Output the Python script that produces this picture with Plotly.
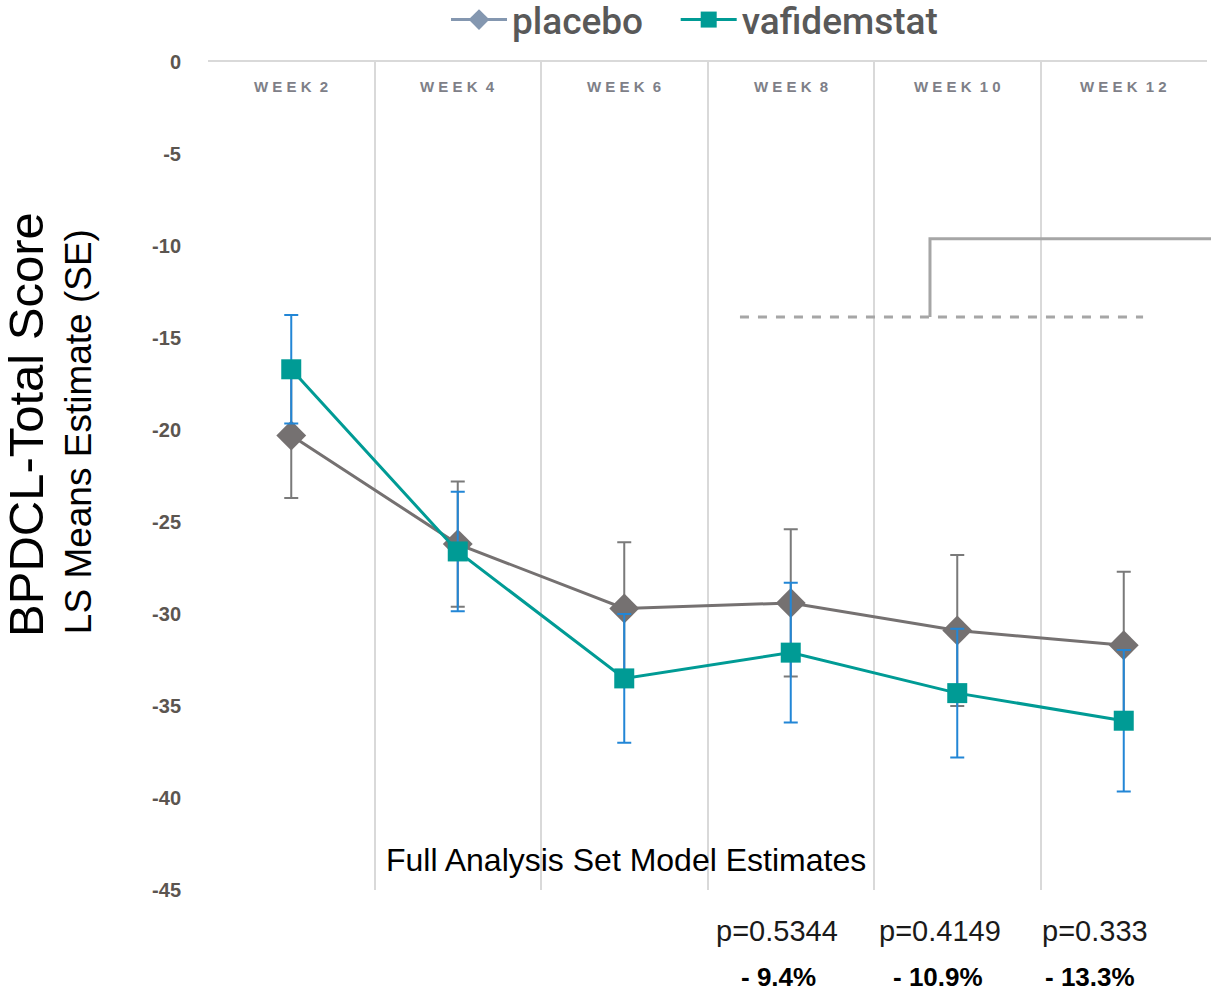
import plotly.graph_objects as go

# Visits and model estimates (LS means, SE)
weeks = ["WEEK 2", "WEEK 4", "WEEK 6", "WEEK 8", "WEEK 10", "WEEK 12"]
placebo_mean = [-20.3, -26.2, -29.7, -29.4, -30.9, -31.7]
placebo_se = [3.4, 3.4, 3.6, 4.0, 4.1, 4.0]
vafidemstat_mean = [-16.7, -26.6, -33.5, -32.1, -34.3, -35.8]
vafidemstat_se = [2.95, 3.25, 3.5, 3.8, 3.5, 3.85]

# Comparison annotations below the plot (weeks 8, 10, 12)
p_values = ["p=0.5344", "p=0.4149", "p=0.333"]
pct_diff = ["- 9.4%", "- 10.9%", "- 13.3%"]

y_ticks = [0, -5, -10, -15, -20, -25, -30, -35, -40, -45]

GRAY = "#757171"
TEAL = "#009B95"
BLUE = "#2286D6"
LEGEND_GRAY = "#8497B0"

x_pos = list(range(len(weeks)))


def spaced(label):
    # letter-spaced header text, e.g. "W E E K  1 0"
    word, num = label.split(" ")
    return " ".join(word) + "  " + " ".join(num)


fig = go.Figure()

fig.add_trace(go.Scatter(
    x=x_pos, y=placebo_mean, mode="lines+markers", name="placebo",
    showlegend=False,
    line=dict(color=GRAY, width=3),
    marker=dict(symbol="diamond", size=23, color=GRAY),
    error_y=dict(type="data", array=placebo_se, visible=True,
                 color="#7A7A7A", thickness=2, width=7),
))

fig.add_trace(go.Scatter(
    x=x_pos, y=vafidemstat_mean, mode="lines+markers", name="vafidemstat",
    showlegend=False,
    line=dict(color=TEAL, width=3),
    marker=dict(symbol="square", size=20, color=TEAL),
    error_y=dict(type="data", array=vafidemstat_se, visible=True,
                 color=BLUE, thickness=2, width=7),
))

# Legend entries (trailing no-break spaces widen the gap between the two items)
fig.add_trace(go.Scatter(
    x=[None], y=[None], mode="lines+markers", name="placebo\u00a0\u00a0\u00a0",
    line=dict(color=LEGEND_GRAY, width=3),
    marker=dict(symbol="diamond", size=20, color=LEGEND_GRAY),
))
fig.add_trace(go.Scatter(
    x=[None], y=[None], mode="lines+markers", name="vafidemstat",
    line=dict(color=TEAL, width=3),
    marker=dict(symbol="square", size=18, color=TEAL),
))

# Threshold bracket
fig.add_shape(type="line", xref="paper", yref="y",
              x0=0.5325, x1=0.936, y0=-13.86, y1=-13.86,
              line=dict(color="#A6A6A6", width=3, dash="dash"))
fig.add_shape(type="path", xref="paper", yref="y",
              path="M0.7227,-13.86 V-9.6 H1.01",
              line=dict(color="#A6A6A6", width=3))

annotations = [
    dict(text="BPDCL-Total Score", x=-0.1822, y=0.5628, textangle=-90, xref="paper", yref="paper",
         font=dict(family="Liberation Sans, Arial", size=49, color="#000000")),
    dict(text="LS Means Estimate (SE)", x=-0.1301, y=0.553, textangle=-90, xref="paper", yref="paper",
         font=dict(family="Liberation Sans, Arial", size=37, color="#000000")),
    dict(text="Full Analysis Set Model Estimates", x=0.4184, y=0.0362, xref="paper", yref="paper",
         font=dict(family="Liberation Sans, Arial", size=32, color="#000000")),
]
for txt, xp in zip(p_values, [0.5696, 0.7327, 0.8879]):
    annotations.append(dict(text=txt, x=xp, y=-0.0495, xref="paper", yref="paper",
                            font=dict(family="Liberation Sans, Arial", size=29, color="#1a1a1a")))
for txt, xp in zip(pct_diff, [0.5706, 0.7307, 0.8829]):
    annotations.append(dict(text="<b>" + txt + "</b>", x=xp, y=-0.105, xref="paper", yref="paper",
                            font=dict(family="Liberation Sans, Arial", size=26, color="#000000")))
# Visit headers along the top of the plot area
for xp, w in zip(x_pos, weeks):
    annotations.append(dict(text=spaced(w), x=xp, y=0.971, xref="x", yref="paper",
                            font=dict(family="Liberation Sans, Arial", size=15,
                                      color="#7E8088", weight="bold")))
for a in annotations:
    a.update(showarrow=False, xanchor="center", yanchor="middle")

fig.update_layout(
    width=1211, height=994,
    margin=dict(l=208, r=4, t=62, b=104, autoexpand=False),
    paper_bgcolor="white", plot_bgcolor="white",
    annotations=annotations,
    showlegend=True,
    legend=dict(orientation="h", x=0.487, y=1.0507, xanchor="center", yanchor="middle",
                font=dict(family="Roboto, DejaVu Sans", size=37, color="#595959", weight=500),
                itemwidth=56, bgcolor="rgba(0,0,0,0)"),
    xaxis=dict(
        range=[-0.5, 5.5], side="top", automargin=False,
        tickmode="array", tickvals=x_pos, showticklabels=False, ticks="",
        showgrid=False, zeroline=False,
        showline=True, linecolor="#D9D9D9", linewidth=2,
        minor=dict(tickmode="array", tickvals=[-0.5, 0.5, 1.5, 2.5, 3.5, 4.5, 5.5],
                   showgrid=True, gridcolor="#D9D9D9", gridwidth=2, ticks=""),
    ),
    yaxis=dict(
        range=[-45, 0], tickmode="array", tickvals=y_ticks, automargin=False,
        ticktext=[str(v) for v in y_ticks],
        showgrid=False, zeroline=False, showline=False, ticks="",
        ticklabelstandoff=26,
        tickfont=dict(family="Liberation Sans, Arial", size=20, color="#5B5550", weight="bold"),
    ),
)

fig.write_html("out.html")
